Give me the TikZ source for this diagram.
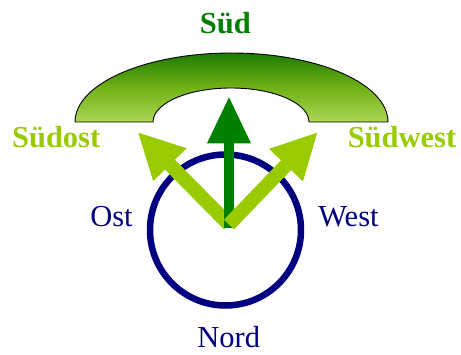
\documentclass[tikz,border=0pt]{standalone}
\usepackage{fontspec}
\setmainfont{Liberation Serif}
\usetikzlibrary{arrows.meta}
\definecolor{navyc}{HTML}{000080}
\definecolor{darkg}{HTML}{008000}
\definecolor{lightg}{HTML}{99CC00}
\definecolor{gtop}{RGB}{30,122,0}
\definecolor{gmid}{RGB}{112,178,22}
\definecolor{gbot}{RGB}{172,214,84}
\tikzset{
  lbl/.style={anchor=base, inner sep=0pt, font=\fontsize{30.5}{36}\selectfont},
  dirbold/.style={lbl, font=\fontsize{30.5}{36}\selectfont\bfseries},
  bigarrow/.style={line width=#1, line cap=butt},
}
\begin{document}
\begin{tikzpicture}[x=1pt,y=1pt]
\useasboundingbox (0,0) rectangle (461,354);
% handset
\path[draw=black, line width=0.9pt, top color=gtop, bottom color=gbot, middle color=gmid]
  (75,232) arc[start angle=180, end angle=0, x radius=156.5, y radius=69]
  -- (309,232) arc[start angle=0, end angle=180, x radius=78, y radius=34]
  -- cycle;
% circle
\node[draw=navyc, line width=6.5pt, circle, minimum size=151pt, inner sep=0pt] (c) at (225.5,124) {};
% arrows
\coordinate (o) at (229,129.5);
\coordinate (os) at (229,126);
\coordinate (tS) at (229,256.7);
\coordinate (tSO) at (138.3,221.3);
\coordinate (tSW) at (317.2,221.3);
\draw[bigarrow=14pt, draw=lightg, -{Triangle[length=45pt,width=47pt,line width=0pt]}] (o) -- (tSO);
\draw[bigarrow=10.5pt, draw=darkg, -{Triangle[length=46pt,width=44pt,line width=0pt]}] (os) -- (tS);
\draw[bigarrow=14pt, draw=lightg, -{Triangle[length=45pt,width=47pt,line width=0pt]}] (o) -- (tSW);
% labels
\node[dirbold, text=darkg] (sued) at (225.3,320.7) {Süd};
\node[dirbold, text=lightg] (suedost) at (56.2,206.7) {Südost};
\node[dirbold, text=lightg] (suedwest) at (402,206.7) {Südwest};
\node[lbl, text=navyc] (ost) at (111.5,128) {Ost};
\node[lbl, text=navyc] (west) at (348.5,128) {West};
\node[lbl, text=navyc] (nord) at (228.7,6.3) {Nord};
\end{tikzpicture}
\end{document}
